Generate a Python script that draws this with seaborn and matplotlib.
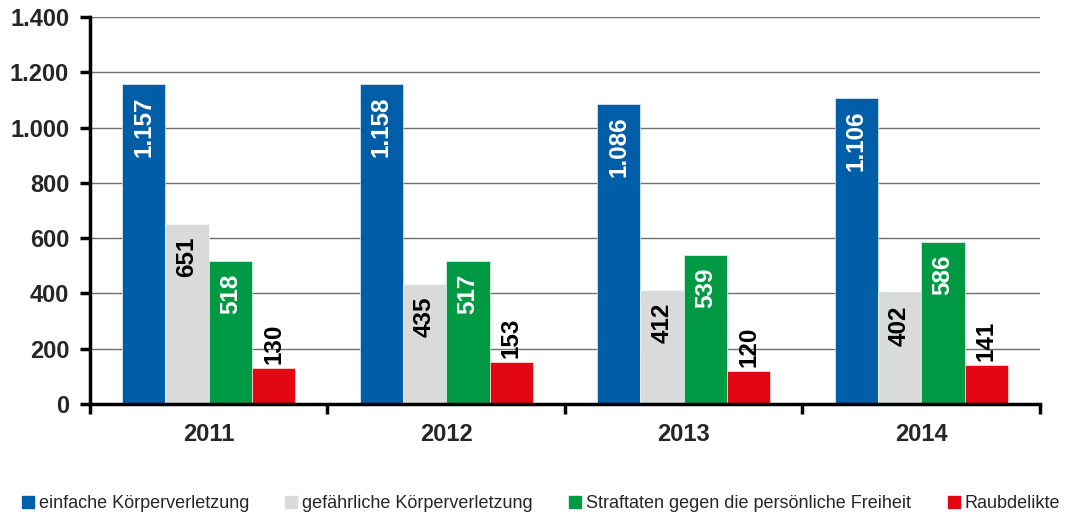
import pandas as pd
import numpy as np
import matplotlib
matplotlib.use("Agg")
import matplotlib.pyplot as plt
from matplotlib.lines import Line2D
import seaborn as sns

# data
years = ["2011", "2012", "2013", "2014"]
categories = ["einfache Körperverletzung", "gefährliche Körperverletzung",
              "Straftaten gegen die persönliche Freiheit", "Raubdelikte"]
einfache = [1157, 1158, 1086, 1106]
gefaehrliche = [651, 435, 412, 402]
straftaten = [518, 517, 539, 586]
raub = [130, 153, 120, 141]
colors = ["#005EA8", "#D9DADA", "#009A44", "#E30613"]
label_colors = ["white", "black", "white", "black"]

df = pd.DataFrame({
    "Jahr": years * 4,
    "Kategorie": np.repeat(categories, 4),
    "Anzahl": einfache + gefaehrliche + straftaten + raub,
})

sns.set_style("white")
plt.rcParams["font.family"] = ["Liberation Sans", "DejaVu Sans"]

fig, ax = plt.subplots(figsize=(10.71, 5.15), dpi=100)
fig.subplots_adjust(left=0.084, right=0.971, top=0.967, bottom=0.2155)

sns.barplot(data=df, x="Jahr", y="Anzahl", hue="Kategorie", palette=colors,
            width=0.73, saturation=1, edgecolor="white", linewidth=0.4,
            legend=False, ax=ax)

def fmt(v):
    return f"{v:,}".replace(",", ".")

# value labels, rotated like in the original
for i, cont in enumerate(ax.containers):
    for bar in cont:
        h = bar.get_height()
        x = bar.get_x() + bar.get_width() / 2
        if i == 3:
            ax.annotate(fmt(int(h)), (x, h), xytext=(0, 3), textcoords="offset points",
                        rotation=90, ha="center", va="bottom", fontsize=17.5,
                        fontweight="bold", color=label_colors[i])
        else:
            ax.annotate(fmt(int(h)), (x, h), xytext=(0, -9), textcoords="offset points",
                        rotation=90, ha="center", va="top", fontsize=17.5,
                        fontweight="bold", color=label_colors[i])

ax.set_xlim(-0.5, 3.5)
ax.set_ylim(0, 1400)
ax.set_yticks(range(0, 1401, 200))
ax.set_yticklabels([fmt(v) for v in range(0, 1401, 200)])
ax.yaxis.grid(True, color="#707070", linewidth=1)
ax.set_axisbelow(True)
ax.set_xlabel("")
ax.set_ylabel("")

for s in ["top", "right"]:
    ax.spines[s].set_visible(False)
for s in ["left", "bottom"]:
    ax.spines[s].set_linewidth(2.5)
    ax.spines[s].set_color("black")

ax.set_xticks([-0.5, 0.5, 1.5, 2.5, 3.5], minor=True)
ax.tick_params(axis="x", which="major", bottom=True, length=0, pad=14, labelsize=17)
ax.tick_params(axis="x", which="minor", bottom=True, length=7, width=2.5,
               color="black", direction="out")
ax.tick_params(axis="y", left=True, length=7, width=2.5, color="black",
               direction="out", labelsize=17, pad=8)
for lbl in ax.get_xticklabels() + ax.get_yticklabels():
    lbl.set_fontweight("bold")

handles = [Line2D([], [], marker="s", linestyle="", markersize=8,
                  markerfacecolor=c, markeredgecolor=c) for c in colors]
fig.legend(handles, categories, loc="center", bbox_to_anchor=(0.504, 0.022),
           ncol=4, frameon=False, fontsize=13, handletextpad=0.15,
           columnspacing=1.9, handlelength=0.9)

fig.savefig("out.png", dpi=100)
